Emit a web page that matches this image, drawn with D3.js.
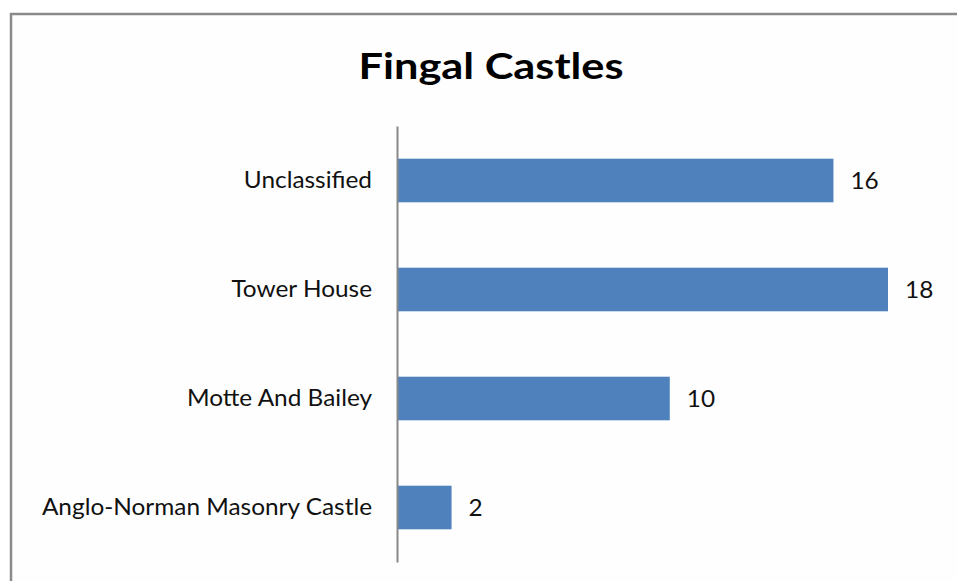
<!DOCTYPE html>
<html><head><meta charset="utf-8">
<script src="https://cdn.jsdelivr.net/npm/d3@7"></script>
<style>body{margin:0;background:#fff}svg{display:block}</style>
</head><body><svg id="c" width="957" height="581"></svg>
<script>
const categories = ["Unclassified", "Tower House", "Motte And Bailey", "Anglo-Norman Masonry Castle"];
const values = [16, 18, 10, 2];
const title = "Fingal Castles";

const svg = d3.select("#c");
const font = "Lato, 'Open Sans', sans-serif";
const stretch = 1.06;
function widen(sel) {
  sel.each(function () {
    const w = this.getComputedTextLength();
    d3.select(this).attr("textLength", w * stretch).attr("lengthAdjust", "spacingAndGlyphs");
  });
}
// chart frame
svg.append("rect").attr("x", 11).attr("y", 14).attr("width", 960).attr("height", 600)
  .attr("fill", "#fefefe").attr("stroke", "#8a8a8a").attr("stroke-width", 2.5);

svg.append("text").attr("x", 491).attr("y", 79).attr("text-anchor", "middle")
  .attr("font-family", font).attr("font-weight", "bold").attr("font-size", 36)
  .attr("fill", "#000").text(title)
  .attr("textLength", 265).attr("lengthAdjust", "spacingAndGlyphs");

const x = d3.scaleLinear().domain([0, 18]).range([397, 888]);
const y = d3.scaleBand().domain(categories).range([126, 562]).paddingInner(0.6).paddingOuter(0.3);

svg.selectAll("rect.bar").data(categories).join("rect").attr("class", "bar")
  .attr("x", x(0)).attr("y", d => y(d)).attr("width", (d, i) => x(values[i]) - x(0))
  .attr("height", y.bandwidth()).attr("fill", "#4f81bd");

const axis = svg.append("g").attr("transform", `translate(${x(0)},0)`)
  .call(d3.axisLeft(y).tickSize(0).tickPadding(25));
axis.select(".domain").attr("stroke", "#888").attr("stroke-width", 2);
axis.selectAll("text").attr("font-family", font).attr("font-size", 23).attr("fill", "#111")
  .attr("dy", "0.33em").call(widen);

svg.selectAll("text.val").data(categories).join("text").attr("class", "val")
  .attr("x", (d, i) => x(values[i]) + 17).attr("y", d => y(d) + y.bandwidth() / 2)
  .attr("dy", "0.35em").attr("font-family", font).attr("font-size", 23).attr("fill", "#111")
  .text((d, i) => values[i]).call(widen);
</script></body></html>
